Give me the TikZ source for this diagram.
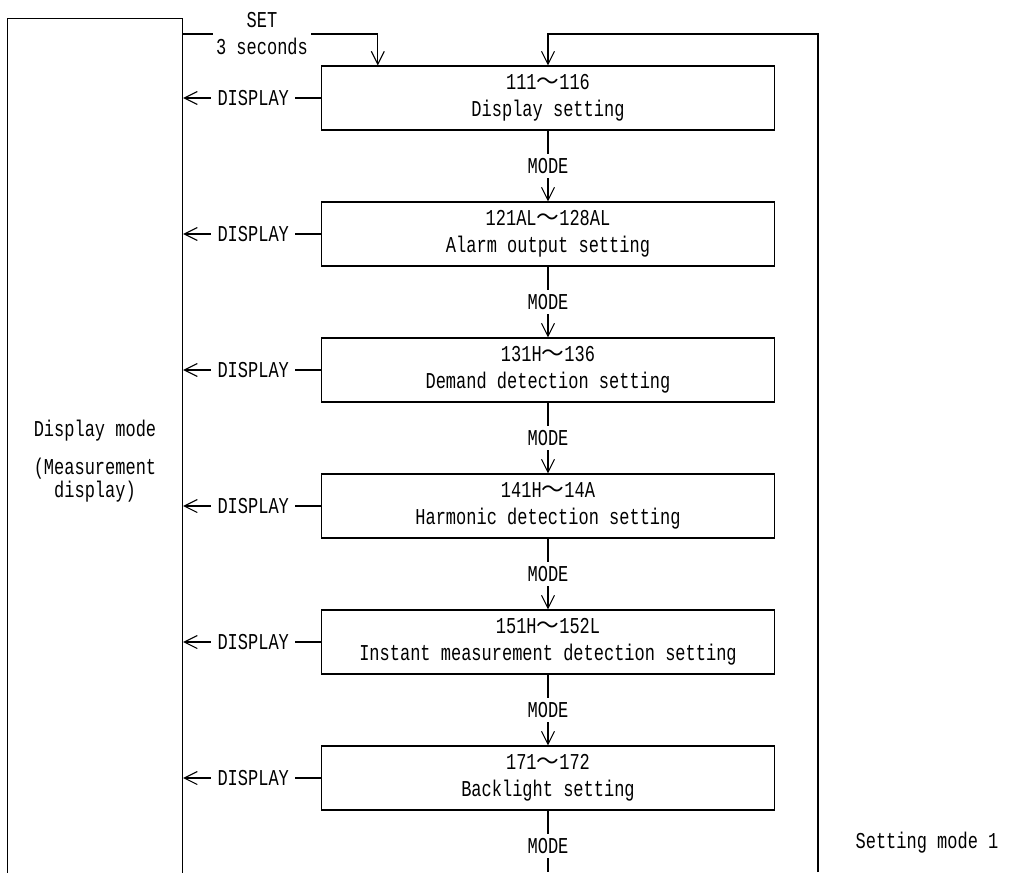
\documentclass[tikz,border=0pt]{standalone}
\usepackage{fontspec}
\setmainfont[FakeStretch=0.75]{Liberation Mono}
\newfontfamily\cjk{Noto Sans CJK JP}
\usetikzlibrary{arrows.meta,positioning,calc}
\newcommand\flowfont{\fontsize{17pt}{20.25pt}\selectfont}
\tikzset{
  setbox/.style={draw,minimum width=340pt,minimum height=48pt,inner sep=0pt,align=center},
  keylbl/.style={inner sep=3pt},
  flow/.style={-{Straight Barb[length=9.75pt,width=9.75pt]}},
}
\begin{document}
\begin{tikzpicture}[x=0.75pt,y=-0.75pt,line width=0.8pt,font=\flowfont]
  \useasboundingbox (0,0) rectangle (1031,872);
  % display mode, runs off the bottom edge
  \node[draw,minimum width=131.4pt,minimum height=664pt,inner sep=0pt,align=center,
        font=\fontsize{17pt}{15pt}\selectfont] (dispmode) at (95,461)
    {Display mode\\[12pt](Measurement\\display)};
  % setting mode boxes
  \foreach \num/\what [count=\i] in {111{\cjk ～}116/Display setting,
      121AL{\cjk ～}128AL/Alarm output setting,
      131H{\cjk ～}136/Demand detection setting,
      141H{\cjk ～}14A/Harmonic detection setting,
      151H{\cjk ～}152L/Instant measurement detection setting,
      171{\cjk ～}172/Backlight setting}
  {
    \node[setbox] (box\i) at (548,{98+136*(\i-1)}) {\num\\\what};
    \node[keylbl,inner xsep=4.5pt,left=19pt of box\i.west] (dsp\i) {DISPLAY};
    \draw (box\i.west) -- (dsp\i.east);
    \draw[flow] (dsp\i.west) -- (dsp\i.west -| dispmode.east);
    \node[keylbl] (mode\i) at (548,{166+136*(\i-1)}) {MODE};
    \draw (box\i.south) -- (mode\i.north);
  }
  \foreach \i [evaluate=\i as \j using {int(\i+1)}] in {1,...,5}
    \draw[flow] (mode\i.south) -- (box\j.north);
  \coordinate (modeout) at (548,872);
  \draw (mode6.south) -- (modeout);
  % entry with SET
  \node[align=center,inner sep=2pt] (setkey) at (262,34) {SET\\3 seconds};
  \coordinate (setin) at ($(box1.north west)+(57,0)$);
  \draw (setkey.west -| dispmode.east) -- (setkey.west);
  \draw[flow] (setkey.east) -| (setin);
  % return loop
  \coordinate (loopin) at (818,872);
  \draw[flow] (loopin) |- (box1.north |- setkey) -- (box1.north);
  \node (modename) at (927,843) {Setting mode 1};
\end{tikzpicture}
\end{document}
